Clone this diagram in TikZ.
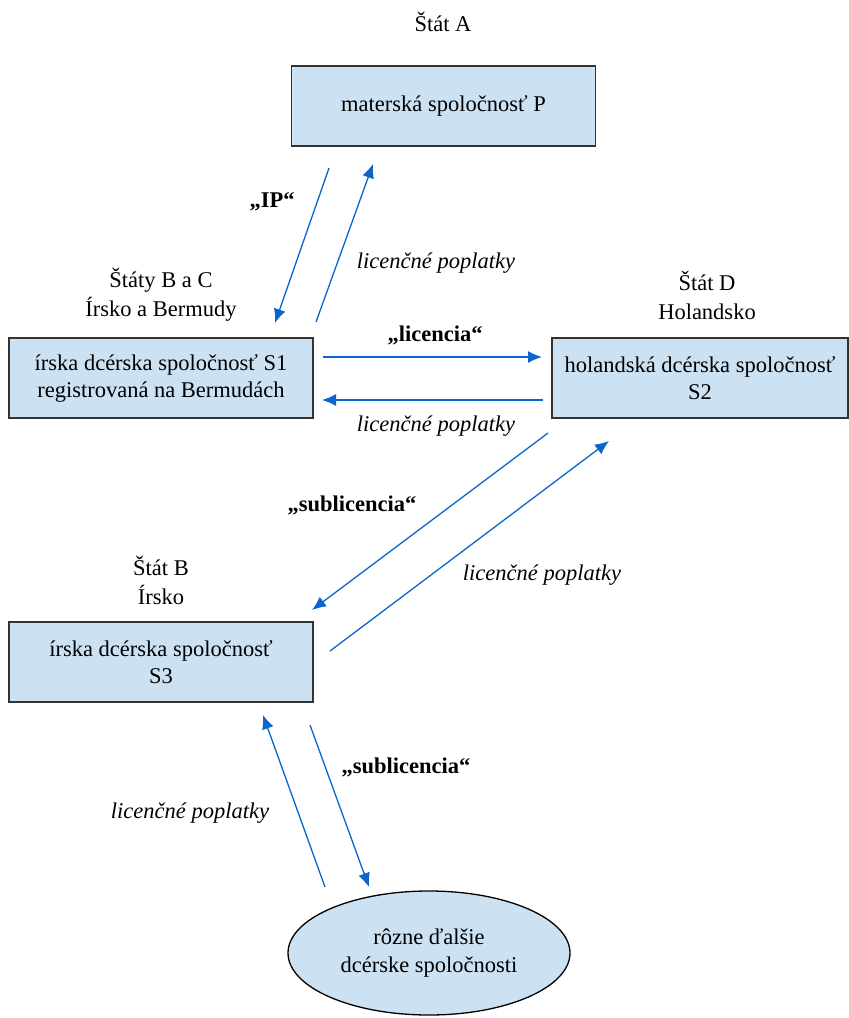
\documentclass[tikz,border=0pt]{standalone}
\usepackage{fontspec}
\setmainfont{Liberation Serif}
\usetikzlibrary{arrows.meta,shapes.geometric}
\definecolor{boxfill}{RGB}{204,226,243}
\definecolor{arrblue}{RGB}{10,102,204}
\tikzset{
  box/.style={draw=black!80, line width=1.3pt, fill=boxfill, minimum width=304pt, minimum height=80pt, align=center, inner sep=0pt, font=\fontsize{22.5}{27}\selectfont},
  oval/.style={ellipse, draw=black, line width=1.3pt, fill=boxfill, minimum width=282pt, minimum height=124pt, align=center, inner sep=0pt, font=\fontsize{22.5}{28}\selectfont},
  lbl/.style={align=center, inner sep=0pt, font=\fontsize{22.5}{29}\selectfont},
  bl/.style={inner sep=0pt, font=\fontsize{22.5}{27}\selectfont\bfseries},
  il/.style={inner sep=0pt, font=\fontsize{22.5}{27}\selectfont\itshape},
  flow/.style={draw=arrblue, line width=1.3pt, -{Latex[length=14pt,width=12pt]}},
}
\begin{document}
\begin{tikzpicture}[x=1pt,y=-1pt]
\useasboundingbox (0,0) rectangle (849,1018);
% boxes
\node[box] (P) at (443.5,106) {materská spoločnosť P};
\node[box] (S1) at (161,378) {írska dcérska spoločnosť S1\\registrovaná na Bermudách};
\node[box, minimum width=296pt] (S2) at (700,378) {holandská dcérska spoločnosť\\S2};
\node[box] (S3) at (161,662) {írska dcérska spoločnosť\\S3};
\node[oval] (E) at (429,953) {rôzne ďalšie\\dcérske spoločnosti};
% region labels
\node[lbl] (A) at (443,22) {Štát A};
\node[lbl] (BC) at (161,295) {Štáty B a C\\Írsko a Bermudy};
\node[lbl] (D) at (707,295) {Štát D\\Holandsko};
\node[lbl] (B) at (161,580) {Štát B\\Írsko};
% arrow endpoints
\coordinate (a1s) at (329,168); \coordinate (a1e) at (275,323);
\coordinate (a2s) at (316,322); \coordinate (a2e) at (373,164);
\coordinate (a3s) at (323,357); \coordinate (a3e) at (542,357);
\coordinate (a4s) at (543,400); \coordinate (a4e) at (322,400);
\coordinate (a5s) at (548,433); \coordinate (a5e) at (312,610);
\coordinate (a6s) at (330,651); \coordinate (a6e) at (609,441);
\coordinate (a7s) at (310,725); \coordinate (a7e) at (369,887);
\coordinate (a8s) at (325,887); \coordinate (a8e) at (263,715);
\draw[flow] (a1s) -- (a1e);
\draw[flow] (a2s) -- (a2e);
\draw[flow] (a3s) -- (a3e);
\draw[flow] (a4s) -- (a4e);
\draw[flow] (a5s) -- (a5e);
\draw[flow] (a6s) -- (a6e);
\draw[flow] (a7s) -- (a7e);
\draw[flow] (a8s) -- (a8e);
% arrow labels
\node[bl] (l1) at (272,202) {„IP“};
\node[il] (l2) at (436,263) {licenčné poplatky};
\node[bl] (l3) at (435,335) {„licencia“};
\node[il] (l4) at (436,426) {licenčné poplatky};
\node[bl] (l5) at (352,505) {„sublicencia“};
\node[il] (l6) at (542,575) {licenčné poplatky};
\node[bl] (l7) at (406,767) {„sublicencia“};
\node[il] (l8) at (190,813) {licenčné poplatky};
\end{tikzpicture}
\end{document}
